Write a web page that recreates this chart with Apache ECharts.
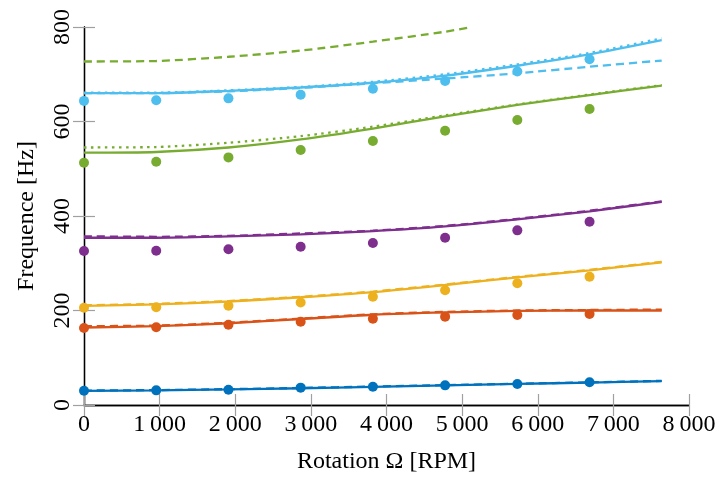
<!DOCTYPE html>
<html>
<head>
<meta charset="utf-8">
<script src="https://cdn.jsdelivr.net/npm/echarts@6/dist/echarts.min.js"></script>
<style>
html,body{margin:0;padding:0;background:#fff;}
#chart{width:721px;height:479px;}
</style>
</head>
<body>
<div id="chart"></div>
<script>
// Rotation speeds (RPM) used for lines (100 rad/s steps)
const rpm = [0, 955, 1910, 2865, 3820, 4775, 5730, 6685, 7639];
// Measured points (same speeds, without the last one)
const rpmMeas = [0, 955, 1910, 2865, 3820, 4775, 5730, 6685];

const xTickLabels = ['0', '1\u2009000', '2\u2009000', '3\u2009000', '4\u2009000', '5\u2009000', '6\u2009000', '7\u2009000', '8\u2009000'];
const yTickLabels = ['0', '200', '400', '600', '800'];

// Mode 1 (blue)
const m1Solid  = [30, 31, 33, 35.5, 38.5, 41.5, 44.5, 47.5, 50.5];
const m1Dashed = [30.5, 31.5, 33.5, 36, 39, 42, 45, 48, 51];
const m1Meas   = [30, 31, 32.4, 36.7, 38.8, 41.6, 44.4, 48];
// Mode 2 (orange)
const m2Solid  = [164, 167, 173, 182, 191, 196, 199, 200, 200];
const m2Dashed = [167, 168, 174, 183, 192, 197, 200, 201, 202];
const m2Meas   = [163, 164.4, 170, 176.3, 182.7, 187, 190.5, 192.6];
// Mode 3 (yellow)
const m3Solid  = [210, 213, 219, 228, 239, 254, 270, 285, 302];
const m3Dashed = [211, 214, 220, 229, 240, 255, 271, 286, 303];
const m3Meas   = [206, 206.7, 210, 217, 229, 243, 257.5, 271.6];
// Mode 4 (purple)
const m4Solid  = [354, 354, 357, 361, 368, 378, 393, 410, 430];
const m4Dashed = [357, 356, 358, 363, 369, 379, 394, 411, 431];
const m4Meas   = [326, 326.6, 329.5, 335, 343, 354, 369.6, 388];
// Mode 5 (green)
const m5Solid  = [534, 535.5, 545, 562, 585, 611, 635, 656, 676];
const m5Dotted = [545, 546, 555, 569, 589, 613, 636, 657, 677];
const m5DashedX = [0, 955, 1910, 2865, 3820, 4775, 5130];
const m5Dashed  = [727, 728, 737, 750, 769, 790, 800];
const m5Meas   = [512.8, 515, 524, 539.7, 558.7, 580.5, 603, 626.5];
// Mode 6 (light blue)
const m6Solid  = [660, 660, 665, 672, 682, 697, 718, 742, 772];
const m6Dotted = [661, 661, 666, 673, 684, 700, 721, 745, 776];
const m6Dashed = [660, 660, 664, 671, 681, 691, 702, 716, 729];
const m6Meas   = [643.6, 645, 649, 656.8, 669.5, 685.7, 706, 731.6];

const colors = ['#0072BD', '#D95319', '#EDB120', '#7E2F8E', '#77AC30', '#4DBEEE'];

function pairs(xs, ys) { return ys.map((y, i) => [xs[i], y]); }

const series = [];
function lineSeries(xs, ys, color, type) {
  const dash = type === 'dashed' ? [8, 5] : (type === 'dotted' ? [2.5, 4.5] : 'solid');
  series.push({
    type: 'line', data: pairs(xs, ys), showSymbol: false, symbol: 'none',
    smooth: 0.25, clip: true,
    lineStyle: { color: color, width: 2.3, type: dash, opacity: 1 }, z: type === 'solid' ? 3 : 2,
    animation: false
  });
}
function scatterSeries(ys, color) {
  series.push({
    type: 'scatter', data: pairs(rpmMeas, ys), symbol: 'circle', symbolSize: 10,
    itemStyle: { color: color, opacity: 1 }, z: 5, animation: false
  });
}

const modes = [
  { solid: m1Solid, dashed: m1Dashed, meas: m1Meas },
  { solid: m2Solid, dashed: m2Dashed, meas: m2Meas },
  { solid: m3Solid, dashed: m3Dashed, meas: m3Meas },
  { solid: m4Solid, dashed: m4Dashed, meas: m4Meas },
  { solid: m5Solid, dotted: m5Dotted, dashedX: m5DashedX, dashed: m5Dashed, meas: m5Meas },
  { solid: m6Solid, dotted: m6Dotted, dashed: m6Dashed, meas: m6Meas }
];
modes.forEach((m, i) => {
  const c = colors[i];
  lineSeries(m.dashedX || rpm, m.dashed, c, 'dashed');
  if (m.dotted) lineSeries(rpm, m.dotted, c, 'dotted');
  lineSeries(rpm, m.solid, c, 'solid');
  scatterSeries(m.meas, c);
});

const font = 'Liberation Serif';
const tickStyle = { show: true, inside: true, length: 11, lineStyle: { color: '#a0a0a0', width: 1.2 } };
const axisLineStyle = { show: true, lineStyle: { color: '#000', width: 1.3 } };

const chart = echarts.init(document.getElementById('chart'), null, { renderer: 'canvas' });
chart.setOption({
  backgroundColor: '#fff',
  animation: false,
  grid: { left: 84, right: 32, top: 27, bottom: 74, containLabel: false },
  xAxis: [
    {
      type: 'value', min: 0, max: 8000, interval: 1000, position: 'bottom',
      axisLine: axisLineStyle, axisTick: tickStyle, splitLine: { show: false },
      axisLabel: {
        color: '#000', fontFamily: font, fontSize: 24, margin: 8,
        formatter: (v) => xTickLabels[Math.round(v / 1000)]
      },
      name: 'Rotation \u03A9 [RPM]', nameLocation: 'middle', nameGap: 45,
      nameTextStyle: { color: '#000', fontFamily: font, fontSize: 24 }
    },
    {
      type: 'value', min: 0, max: 8000, interval: 1000, position: 'top',
      axisLine: axisLineStyle, axisTick: tickStyle, splitLine: { show: false },
      axisLabel: { show: false }
    }
  ],
  yAxis: [
    {
      type: 'value', min: 0, max: 800, interval: 200, position: 'left',
      axisLine: axisLineStyle, axisTick: tickStyle, splitLine: { show: false },
      axisLabel: {
        color: '#000', fontFamily: font, fontSize: 24, margin: 9, rotate: 90,
        verticalAlign: 'bottom', align: 'center',
        formatter: (v) => yTickLabels[Math.round(v / 200)]
      },
      name: 'Frequence [Hz]', nameLocation: 'middle', nameGap: 45, nameRotate: 90,
      nameTextStyle: { color: '#000', fontFamily: font, fontSize: 24 }
    },
    {
      type: 'value', min: 0, max: 800, interval: 200, position: 'right',
      axisLine: axisLineStyle, axisTick: tickStyle, splitLine: { show: false },
      axisLabel: { show: false }
    }
  ],
  series: series
});
</script>
</body>
</html>
